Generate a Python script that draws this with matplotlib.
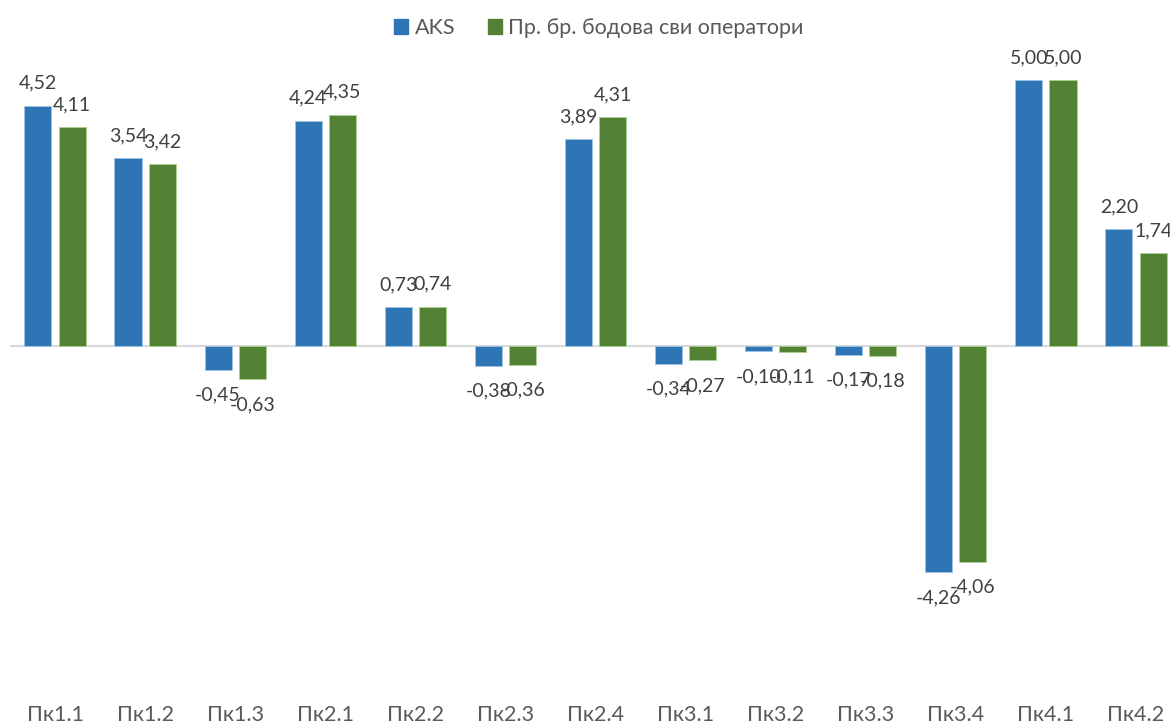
import numpy as np
import matplotlib.pyplot as plt
from matplotlib.patches import Patch

plt.rcParams['font.family'] = ['Lato', 'DejaVu Sans']

categories = ['Пк1.1', 'Пк1.2', 'Пк1.3', 'Пк2.1', 'Пк2.2', 'Пк2.3', 'Пк2.4',
              'Пк3.1', 'Пк3.2', 'Пк3.3', 'Пк3.4', 'Пк4.1', 'Пк4.2']
aks = [4.52, 3.54, -0.45, 4.24, 0.73, -0.38, 3.89, -0.34, -0.10, -0.17, -4.26, 5.00, 2.20]
all_ops = [4.11, 3.42, -0.63, 4.35, 0.74, -0.36, 4.31, -0.27, -0.11, -0.18, -4.06, 5.00, 1.74]
series_names = ['AKS', 'Пр. бр. бодова сви оператори']

blue = '#2E75B6'
green = '#548235'

fig = plt.figure(figsize=(11.7, 7.24), dpi=100)
ax = fig.add_axes([10 / 1170, 59 / 724, 1171 / 1170, 638 / 724])

x = np.arange(len(categories))
w = 0.3
off = 0.19
b1 = ax.bar(x - off, aks, w, color=blue, edgecolor='#9DC3E6', linewidth=0.6)
b2 = ax.bar(x + off, all_ops, w, color=green, edgecolor='#A9D18E', linewidth=0.6)

def lab(v):
    return f'{v:.2f}'.replace('.', ',')

for bars, vals in ((b1, aks), (b2, all_ops)):
    for r, v in zip(bars, vals):
        cx = r.get_x() + r.get_width() / 2
        if v >= 0:
            ax.annotate(lab(v), (cx, v), xytext=(0, 10), textcoords='offset points',
                        ha='center', va='bottom', fontsize=14, color='#404040')
        else:
            ax.annotate(lab(v), (cx, v), xytext=(0, -12), textcoords='offset points',
                        ha='center', va='top', fontsize=14, color='#404040')

ax.axhline(0, color='#D9D9D9', linewidth=1.5, zorder=0)
ax.set_xlim(-0.5, len(categories) - 0.5)
ax.set_ylim(-6, 6)
ax.set_yticks([])
ax.set_xticks([])
for s in ax.spines.values():
    s.set_visible(False)

# category labels sit at the very bottom of the picture
for i, c in enumerate(categories):
    xf = fig.transFigure.inverted().transform(ax.transData.transform((i, 0)))[0]
    fig.text(xf, 3 / 724, c, ha='center', va='baseline', fontsize=15.5, color='#595959')

handles = [Patch(color=blue), Patch(color=green)]
fig.legend(handles, series_names, loc='center', bbox_to_anchor=(599 / 1170, 1 - 28 / 724),
           ncol=2, frameon=False, fontsize=15.5, handlelength=0.65, handleheight=0.65,
           columnspacing=1.5, handletextpad=0.3, labelcolor='#595959')

fig.savefig('out.png', dpi=100)
